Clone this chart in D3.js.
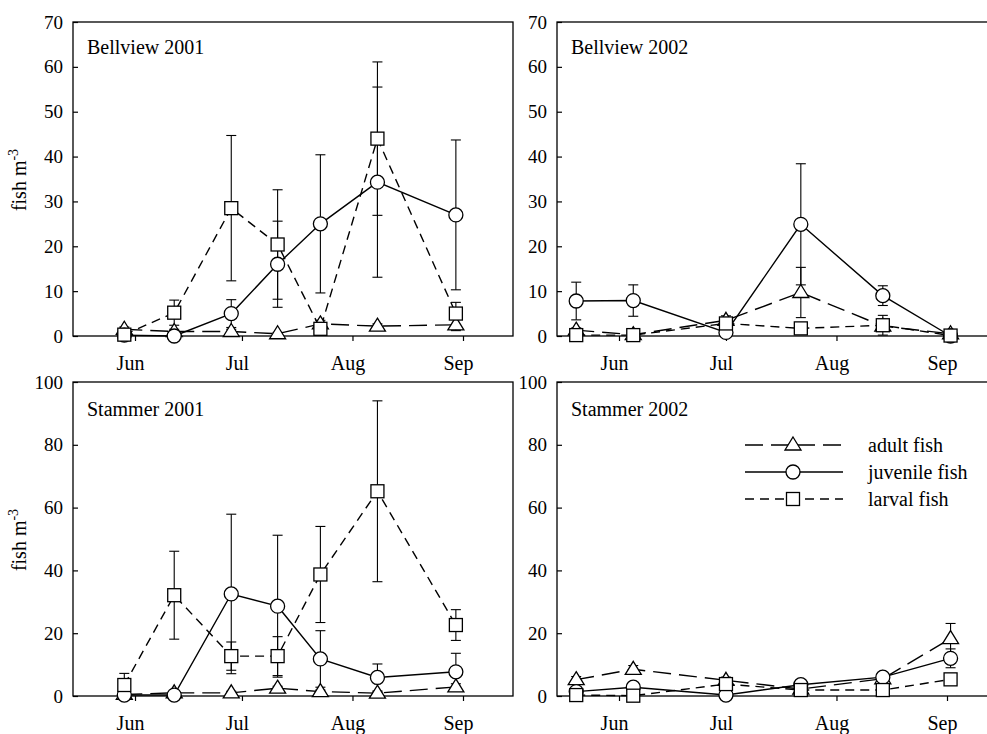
<!DOCTYPE html>
<html><head><meta charset="utf-8">
<script src="https://cdn.jsdelivr.net/npm/d3@7"></script>
<style>
body{margin:0;background:#fff;}
svg text{font-family:"Liberation Serif","Times New Roman",serif;fill:#000;}
</style></head><body>
<svg id="chart" width="987" height="734"></svg>
<script>
// ---------- data ----------
const monthTicks = ["06-01", "07-01", "08-01", "09-01"];
const monthLabels = ["Jun", "Jul", "Aug", "Sep"];
const seriesNames = ["adult fish", "juvenile fish", "larval fish"];
const yTicksBellview = [0, 10, 20, 30, 40, 50, 60, 70];
const yTicksStammer = [0, 20, 40, 60, 80, 100];

const dates2001 = ["2001-05-29", "2001-06-12", "2001-06-28", "2001-07-11", "2001-07-23", "2001-08-08", "2001-08-30"];
const dates2002 = ["2002-05-20", "2002-06-05", "2002-07-01", "2002-07-22", "2002-08-14", "2002-09-02"];

const bellview2001Adult = [1.5, 1.0, 1.0, 0.5, 2.7, 2.2, 2.5];
const bellview2001AdultErr = [0.5, 0.5, 0.5, 0.3, 0.8, 0.5, 1.3];
const bellview2001Juvenile = [0.2, 0.0, 5.0, 16.0, 25.0, 34.3, 27.0];
const bellview2001JuvenileErr = [0.2, 0.3, 3.1, 9.6, 15.4, 21.2, 16.7];
const bellview2001Larval = [0.3, 5.2, 28.5, 20.4, 1.6, 44.0, 5.0];
const bellview2001LarvalErr = [0.3, 2.8, 16.2, 12.2, 0.8, 17.1, 2.5];

const bellview2002Adult = [1.3, 0.3, 3.5, 9.7, 2.2, 0.5];
const bellview2002AdultErr = [0.5, 0.2, 1.0, 5.6, 0.8, 0.3];
const bellview2002Juvenile = [7.8, 7.9, 0.8, 24.9, 9.0, 0.0];
const bellview2002JuvenileErr = [4.2, 3.5, 0.5, 13.5, 2.2, 0.0];
const bellview2002Larval = [0.2, 0.2, 2.8, 1.7, 2.4, 0.1];
const bellview2002LarvalErr = [0.2, 0.2, 0.6, 0.6, 2.2, 0.1];

const stammer2001Adult = [0.5, 1.0, 1.0, 2.5, 1.4, 0.9, 2.9];
const stammer2001AdultErr = [0.3, 0.5, 0.5, 0.6, 0.5, 0.4, 1.0];
const stammer2001Juvenile = [0.3, 0.3, 32.5, 28.6, 11.8, 5.9, 7.7];
const stammer2001JuvenileErr = [0.4, 0.3, 25.4, 22.6, 9.0, 4.3, 5.9];
const stammer2001Larval = [3.5, 32.1, 12.7, 12.7, 38.7, 65.2, 22.6];
const stammer2001LarvalErr = [3.7, 14.0, 4.5, 6.2, 15.3, 28.8, 4.9];

const stammer2002Adult = [5.2, 8.5, 5.0, 2.2, 5.5, 18.3];
const stammer2002AdultErr = [1.0, 1.2, 1.0, 0.5, 1.0, 4.8];
const stammer2002Juvenile = [1.4, 2.8, 0.3, 3.6, 6.0, 12.0];
const stammer2002JuvenileErr = [0.5, 1.0, 0.3, 1.0, 1.0, 3.0];
const stammer2002Larval = [0.3, 0.1, 3.8, 1.9, 1.9, 5.3];
const stammer2002LarvalErr = [0.3, 0.1, 1.0, 0.5, 0.5, 1.0];

// ---------- layout ----------
const parse = d3.timeParse("%Y-%m-%d");
const svg = d3.select("#chart");
const panelW = 440, panelH = 314;
const styles = [
  {dash: "18,8", shape: "triangle"},
  {dash: null, shape: "circle"},
  {dash: "9,6", shape: "square"}
];

const panels = [
  {title: "Bellview 2001", year: 2001, x: 73, y: 22, yMax: 70, yTicks: yTicksBellview, dates: dates2001,
   vals: [bellview2001Adult, bellview2001Juvenile, bellview2001Larval],
   errs: [bellview2001AdultErr, bellview2001JuvenileErr, bellview2001LarvalErr], ylabel: true, titleDy: 32},
  {title: "Bellview 2002", year: 2002, x: 557, y: 22, yMax: 70, yTicks: yTicksBellview, dates: dates2002,
   vals: [bellview2002Adult, bellview2002Juvenile, bellview2002Larval],
   errs: [bellview2002AdultErr, bellview2002JuvenileErr, bellview2002LarvalErr], ylabel: false, titleDy: 32},
  {title: "Stammer 2001", year: 2001, x: 73, y: 382, yMax: 100, yTicks: yTicksStammer, dates: dates2001,
   vals: [stammer2001Adult, stammer2001Juvenile, stammer2001Larval],
   errs: [stammer2001AdultErr, stammer2001JuvenileErr, stammer2001LarvalErr], ylabel: true, titleDy: 34},
  {title: "Stammer 2002", year: 2002, x: 557, y: 382, yMax: 100, yTicks: yTicksStammer, dates: dates2002,
   vals: [stammer2002Adult, stammer2002Juvenile, stammer2002Larval],
   errs: [stammer2002AdultErr, stammer2002JuvenileErr, stammer2002LarvalErr], ylabel: false, titleDy: 34, legend: true}
];

function drawMarker(g, shape, cx, cy) {
  if (shape === "circle") {
    g.append("circle").attr("cx", cx).attr("cy", cy).attr("r", 7)
      .attr("fill", "#fff").attr("stroke", "#000").attr("stroke-width", 1.3);
  } else if (shape === "square") {
    g.append("rect").attr("x", cx - 6.5).attr("y", cy - 6.5).attr("width", 13).attr("height", 13)
      .attr("fill", "#fff").attr("stroke", "#000").attr("stroke-width", 1.3);
  } else {
    g.append("path").attr("d", `M${cx},${cy - 8}L${cx + 8},${cy + 5}L${cx - 8},${cy + 5}Z`)
      .attr("fill", "#fff").attr("stroke", "#000").attr("stroke-width", 1.3);
  }
}

panels.forEach(p => {
  const g = svg.append("g").attr("transform", `translate(${p.x},${p.y})`);
  const x = d3.scaleTime()
    .domain([new Date(p.year, 5, 1), new Date(p.year, 8, 1)])
    .range([62, 390]);
  const y = d3.scaleLinear().domain([0, p.yMax]).range([panelH, 0]);

  // frame
  g.append("rect").attr("x", 0).attr("y", 0).attr("width", panelW).attr("height", panelH)
    .attr("fill", "none").attr("stroke", "#000").attr("stroke-width", 1.3);

  // y axis
  const ya = g.append("g").call(d3.axisLeft(y).tickValues(p.yTicks).tickSizeInner(-5).tickSizeOuter(0).tickPadding(10));
  ya.select(".domain").remove();
  ya.selectAll("line").attr("stroke-width", 1.2);
  ya.selectAll("text").style("font-size", "19px").attr("font-family", null);

  // x axis
  const tickDates = monthTicks.map(m => parse(p.year + "-" + m));
  const xa = g.append("g").attr("transform", `translate(0,${panelH})`)
    .call(d3.axisBottom(x).tickValues(tickDates).tickSizeInner(5).tickSizeOuter(0).tickPadding(15)
      .tickFormat((d, i) => monthLabels[i]));
  xa.select(".domain").remove();
  xa.selectAll("line").attr("stroke-width", 1.2);
  xa.selectAll("text").style("font-size", "20px").attr("dx", -5).attr("font-family", null);

  // title
  g.append("text").attr("x", 14).attr("y", p.titleDy).style("font-size", "20px").text(p.title);

  // y label
  if (p.ylabel) {
    const t = svg.append("text")
      .attr("transform", `translate(${p.x - 47},${p.y + panelH / 2 + 1}) rotate(-90)`)
      .attr("text-anchor", "middle").style("font-size", "20px");
    t.append("tspan").text("fish m");
    t.append("tspan").attr("dy", -8).style("font-size", "14px").text("-3");
  }

  const dts = p.dates.map(parse);

  // error bars
  p.vals.forEach((vals, s) => {
    vals.forEach((v, i) => {
      const e = p.errs[s][i];
      if (!e) return;
      const cx = x(dts[i]);
      const y1 = y(Math.max(0, v - e)), y2 = y(v + e);
      g.append("line").attr("x1", cx).attr("x2", cx).attr("y1", y1).attr("y2", y2)
        .attr("stroke", "#000").attr("stroke-width", 1.1);
      [y1, y2].forEach(yy => g.append("line").attr("x1", cx - 5).attr("x2", cx + 5)
        .attr("y1", yy).attr("y2", yy).attr("stroke", "#000").attr("stroke-width", 1.1));
    });
  });

  // lines
  p.vals.forEach((vals, s) => {
    const line = d3.line().x((d, i) => x(dts[i])).y(d => y(d));
    g.append("path").datum(vals).attr("d", line).attr("fill", "none")
      .attr("stroke", "#000").attr("stroke-width", 1.4)
      .attr("stroke-dasharray", styles[s].dash);
  });

  // markers
  p.vals.forEach((vals, s) => {
    vals.forEach((v, i) => drawMarker(g, styles[s].shape, x(dts[i]), y(v)));
  });

  // legend
  if (p.legend) {
    seriesNames.forEach((name, s) => {
      const ly = 63 + s * 27;
      g.append("line").attr("x1", 188).attr("x2", 286).attr("y1", ly).attr("y2", ly)
        .attr("stroke", "#000").attr("stroke-width", 1.4).attr("stroke-dasharray", styles[s].dash);
      drawMarker(g, styles[s].shape, 236, ly);
      g.append("text").attr("x", 311).attr("y", ly).attr("dy", "0.35em")
        .style("font-size", "20px").text(name);
    });
  }
});
</script>
</body></html>
